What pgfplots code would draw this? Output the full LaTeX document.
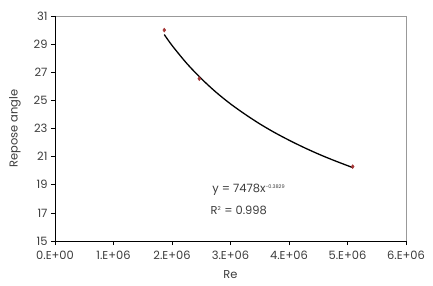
\documentclass[border=0pt]{standalone}
\usepackage{pgfplots}
\pgfplotsset{compat=1.18}
\usepackage{fontspec}
\setmainfont{Poppins}
\definecolor{txt}{RGB}{60,60,60}
\definecolor{mk}{RGB}{165,55,55}
\begin{document}
\begin{tikzpicture}
\useasboundingbox (-55bp,-45bp) rectangle (378bp,241bp);
\begin{axis}[
  scale only axis, width=351bp, height=225bp,
  at={(0,0)}, anchor=south west,
  xmin=0, xmax=6e6, ymin=15, ymax=31,
  xtick={0,1e6,2e6,3e6,4e6,5e6,6e6},
  xticklabels={0.E+00,1.E+06,2.E+06,3.E+06,4.E+06,5.E+06,6.E+06},
  ytick={15,17,...,31},
  scaled x ticks=false,
  /pgf/number format/assume math mode=true,
  tick label style={font=\fontsize{11.5}{12}\selectfont, text=txt},
  xticklabel style={yshift=-3bp},
  label style={font=\fontsize{11.5}{13}\selectfont, text=txt},
  xlabel={Re}, ylabel={Repose angle},
  xlabel style={yshift=-4bp},
  ylabel style={yshift=6bp},
  axis line style={draw=none},
  tick style={black, line width=0.6pt},
  xtick pos=bottom, ytick pos=left,
  tick align=outside, major tick length=4bp,
  clip=false,
]
\draw[gray!80, line width=0.8pt] (axis cs:0,31) -- (axis cs:6e6,31) -- (axis cs:6e6,15);
\draw[black, line width=0.7pt] (axis cs:0,31) -- (axis cs:0,15) -- (axis cs:6e6,15);
\addplot[black, line width=1.3pt, smooth] coordinates {
(1.868e6,29.68) (2.0e6,28.91) (2.25e6,27.64) (2.5e6,26.55) (2.75e6,25.59)
(3.0e6,24.75) (3.25e6,24.01) (3.5e6,23.33) (3.75e6,22.72) (4.0e6,22.17)
(4.25e6,21.66) (4.5e6,21.19) (4.75e6,20.76) (5.089e6,20.22)};
\addplot[only marks, mark=diamond*, mark size=2bp, mk] coordinates {
(1.868e6,30.0) (2.467e6,26.54) (5.089e6,20.29)};
\node[anchor=west, text=txt, font=\fontsize{11.5}{13}\selectfont] at (axis cs:2.63e6,18.65) {y = 7478x\textsuperscript{\fontsize{5}{5}\selectfont -0.3829}};
\node[anchor=west, text=txt, font=\fontsize{11.5}{13}\selectfont] at (axis cs:2.6e6,17.15) {R\textsuperscript{\fontsize{5.5}{5.5}\selectfont 2} = 0.998};
\end{axis}
\end{tikzpicture}
\end{document}
